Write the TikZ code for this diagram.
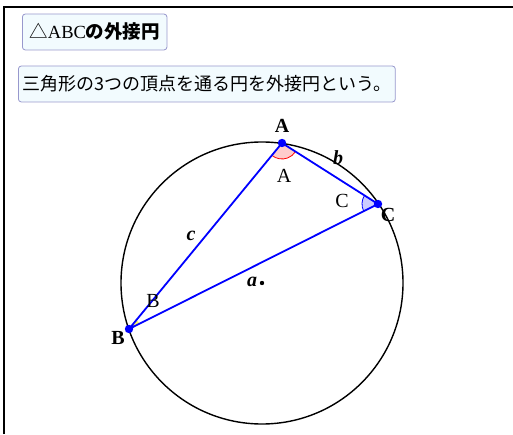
\documentclass[tikz,border=0pt]{standalone}
\usepackage{fontspec}
\setmainfont{Liberation Serif}
\newfontfamily\cjk{Noto Sans CJK JP}
\usetikzlibrary{angles,quotes}

\tikzset{
  titlebox/.style={draw=blue!35!gray!60, fill=cyan!5, rounded corners=3pt, line width=0.8pt,
    minimum height=36pt, anchor=west, font=\fontsize{18}{20}\selectfont},
  side/.style={blue, line width=1.8pt},
  vtx/.style={font=\fontsize{20}{22}\selectfont\bfseries},
  anglab/.style={font=\fontsize{20}{22}\selectfont},
  sidelab/.style={font=\fontsize{20}{22}\selectfont\bfseries\itshape},
}

\begin{document}
\begin{tikzpicture}[x=1pt,y=1pt]
\useasboundingbox (0,0) rectangle (513,434);
% frame
\draw[line width=2pt] (4,0) -- (4,426.5) -- (513,426.5);

% titles
\node[titlebox, inner xsep=7pt, font=\fontsize{18.5}{20}\selectfont] (title) at (22,402) {{\cjk △}ABC{\cjk\bfseries の外接円}};
\node[titlebox, inner xsep=4pt] (def) at (18,350) {\cjk 三角形の3つの頂点を通る円を外接円という。};

% circumcircle
\coordinate (O) at (262,151);
\draw[line width=1.4pt] (O) circle (141);

% vertices
\coordinate (A) at (282,291);
\coordinate (B) at (129,105);
\coordinate (C) at (378,230);

% angle marks
\pic[draw=red, fill=red!20, line width=0.8pt, angle radius=16pt] {angle=B--A--C};
\pic[draw=blue, fill=blue!20, line width=0.8pt, angle radius=16pt] {angle=A--C--B};
\pic[fill=yellow!60, angle radius=12pt] {angle=C--B--A};

% triangle
\draw[side] (A) -- (B) -- (C) -- cycle;
\foreach \p in {A,B,C} {
  \fill[blue] (\p) circle (4.2pt);
}
\fill (O) circle (2.2pt);

% labels
\node[vtx] (lA) at (282,308) {A};
\node[vtx] (lB) at (118,96) {B};
\node[vtx] (lC) at (388,219) {C};
\node[anglab] (aA) at (284,258) {A};
\node[anglab] (aB) at (153,133) {B};
\node[anglab] (aC) at (342,233) {C};
\node[sidelab] (sa) at (252,152) {a};
\node[sidelab] (sb) at (338,276) {b};
\node[sidelab] (sc) at (191,198) {c};
\end{tikzpicture}
\end{document}
